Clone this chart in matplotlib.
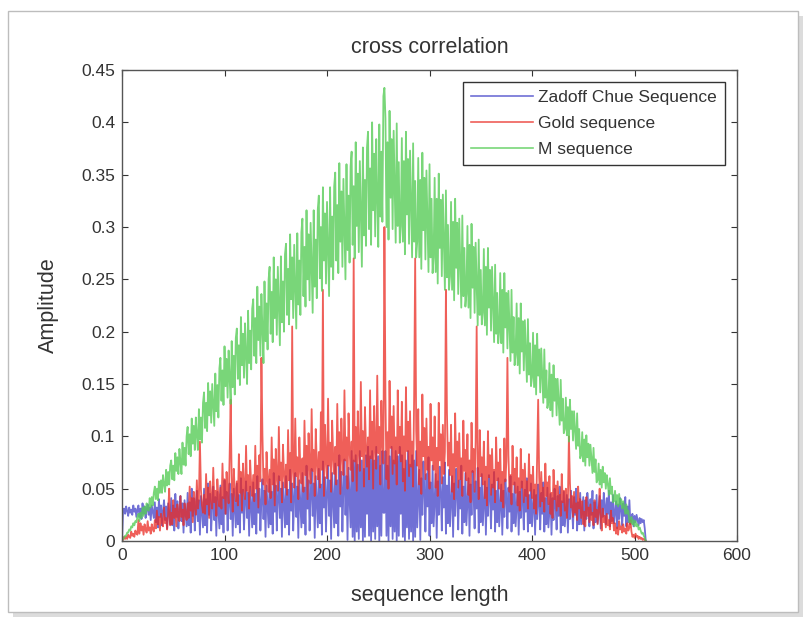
import numpy as np
import matplotlib.pyplot as plt
from matplotlib.patches import Rectangle

plt.rcParams['font.family'] = ['Liberation Sans', 'DejaVu Sans']

# cross correlation values in thousandths, one per lag 0..511 (16 lags per row)
m_seq_milli = [
    0, 2, 3, 5, 5, 8, 8, 11, 10, 14, 13, 17, 15, 19, 18, 23,
    26, 19, 27, 22, 32, 24, 33, 26, 36, 30, 29, 41, 32, 42, 34, 46,
    52, 40, 50, 39, 57, 46, 58, 46, 63, 54, 47, 68, 53, 66, 54, 72,
    77, 59, 72, 58, 84, 67, 80, 64, 88, 75, 64, 94, 73, 89, 72, 100,
    109, 83, 102, 81, 117, 93, 110, 87, 118, 101, 87, 126, 97, 118, 94, 132,
    142, 108, 132, 105, 151, 120, 143, 113, 150, 129, 110, 160, 124, 149, 118, 165,
    175, 134, 163, 130, 186, 148, 174, 137, 182, 155, 131, 191, 147, 177, 140, 194,
    203, 155, 187, 149, 214, 168, 198, 156, 208, 177, 150, 220, 170, 201, 164, 222,
    231, 177, 213, 170, 243, 192, 224, 177, 236, 201, 170, 248, 191, 227, 183, 250,
    262, 198, 238, 190, 271, 213, 250, 197, 262, 223, 187, 272, 209, 248, 200, 274,
    284, 216, 260, 207, 293, 231, 271, 213, 283, 241, 203, 294, 226, 268, 216, 295,
    308, 234, 281, 224, 316, 250, 293, 230, 304, 259, 218, 316, 243, 288, 232, 317,
    330, 251, 300, 239, 338, 268, 313, 246, 324, 278, 234, 338, 262, 310, 250, 339,
    352, 268, 321, 256, 361, 286, 334, 262, 346, 296, 250, 360, 278, 330, 266, 358,
    372, 283, 339, 270, 381, 301, 351, 276, 363, 311, 262, 376, 292, 345, 282, 376,
    391, 298, 356, 283, 400, 316, 370, 291, 384, 328, 281, 398, 310, 372, 305, 425,
    433, 404, 300, 381, 288, 411, 328, 384, 298, 392, 339, 285, 399, 301, 362, 285,
    301, 385, 286, 363, 274, 391, 312, 365, 284, 373, 322, 271, 380, 286, 344, 271,
    286, 366, 271, 345, 260, 371, 297, 347, 269, 354, 306, 257, 360, 271, 327, 256,
    271, 347, 257, 327, 246, 351, 280, 326, 253, 331, 286, 240, 335, 252, 302, 240,
    253, 324, 240, 305, 230, 327, 261, 304, 236, 308, 266, 223, 311, 234, 280, 224,
    236, 301, 223, 283, 213, 303, 242, 281, 218, 285, 246, 206, 288, 216, 259, 207,
    218, 279, 206, 262, 197, 280, 223, 259, 201, 262, 226, 190, 264, 198, 237, 189,
    201, 256, 189, 240, 180, 256, 204, 237, 184, 239, 206, 172, 240, 180, 214, 168,
    178, 227, 168, 213, 160, 227, 181, 210, 163, 211, 182, 152, 212, 159, 189, 148,
    156, 199, 147, 187, 140, 198, 158, 183, 142, 184, 158, 132, 183, 137, 163, 127,
    133, 170, 125, 159, 119, 168, 134, 155, 120, 155, 133, 111, 154, 115, 136, 103,
    107, 137, 101, 128, 95, 135, 107, 124, 96, 124, 106, 88, 122, 91, 107, 79,
    82, 104, 76, 97, 72, 101, 80, 93, 72, 92, 78, 65, 89, 66, 78, 56,
    58, 74, 54, 68, 51, 71, 56, 65, 50, 63, 54, 44, 60, 45, 52, 37,
    38, 48, 35, 44, 33, 45, 35, 40, 31, 38, 32, 26, 35, 26, 29, 18,
    18, 23, 16, 20, 14, 19, 14, 16, 11, 13, 10, 7, 8, 5, 3, 0,
]

gold_base_milli = [
    2, 1, 4, 2, 4, 2, 6, 4, 3, 9, 5, 7, 4, 10, 7, 6,
    12, 7, 17, 10, 14, 6, 16, 11, 8, 19, 10, 13, 7, 16, 11, 9,
    20, 12, 29, 16, 23, 10, 26, 18, 14, 32, 17, 22, 11, 27, 19, 15,
    27, 16, 39, 22, 31, 14, 35, 24, 19, 43, 23, 30, 15, 36, 26, 20,
    36, 22, 52, 29, 41, 18, 47, 32, 25, 58, 31, 40, 20, 49, 34, 27,
    44, 26, 64, 35, 51, 22, 57, 40, 31, 70, 37, 48, 24, 59, 42, 33,
    51, 31, 74, 41, 59, 26, 66, 46, 36, 82, 43, 56, 28, 69, 48, 38,
    57, 34, 83, 46, 66, 29, 74, 51, 40, 91, 48, 63, 31, 77, 54, 43,
    63, 38, 91, 50, 72, 32, 82, 57, 44, 101, 54, 69, 35, 85, 60, 47,
    68, 41, 99, 54, 78, 34, 88, 61, 48, 109, 58, 75, 37, 92, 65, 51,
    73, 44, 106, 58, 84, 37, 95, 66, 51, 117, 62, 80, 40, 99, 69, 55,
    79, 47, 115, 63, 91, 40, 103, 71, 55, 126, 67, 87, 43, 107, 75, 59,
    85, 51, 123, 68, 98, 43, 111, 77, 60, 136, 72, 94, 47, 115, 81, 64,
    90, 54, 131, 72, 104, 45, 117, 81, 63, 144, 77, 99, 50, 122, 86, 68,
    95, 57, 138, 76, 109, 48, 124, 86, 67, 152, 81, 105, 52, 128, 90, 71,
    99, 59, 144, 79, 114, 50, 129, 89, 69, 158, 84, 109, 54, 134, 94, 74,
    79, 139, 59, 104, 50, 153, 89, 119, 64, 129, 74, 99, 54, 144, 84, 109,
    76, 133, 57, 100, 48, 147, 86, 114, 62, 124, 71, 95, 52, 138, 81, 105,
    72, 126, 54, 95, 45, 140, 81, 108, 59, 117, 68, 90, 50, 131, 77, 99,
    68, 119, 51, 89, 43, 132, 77, 102, 55, 111, 64, 85, 47, 123, 72, 94,
    63, 111, 47, 83, 40, 122, 71, 95, 51, 103, 59, 79, 43, 115, 67, 87,
    58, 102, 44, 77, 37, 113, 66, 88, 47, 95, 55, 73, 40, 106, 62, 80,
    54, 95, 41, 71, 34, 105, 61, 82, 44, 88, 51, 68, 37, 99, 58, 75,
    50, 88, 38, 66, 32, 98, 57, 76, 41, 82, 47, 63, 35, 91, 54, 69,
    46, 80, 34, 60, 29, 88, 51, 68, 37, 74, 43, 57, 31, 83, 48, 63,
    41, 71, 31, 54, 26, 79, 46, 61, 33, 66, 38, 51, 28, 74, 43, 56,
    35, 62, 26, 46, 22, 68, 40, 53, 29, 57, 33, 44, 24, 64, 37, 48,
    29, 50, 22, 38, 18, 56, 32, 43, 23, 47, 27, 36, 20, 52, 31, 40,
    22, 38, 16, 28, 14, 42, 24, 32, 18, 35, 20, 27, 15, 39, 23, 30,
    16, 28, 12, 21, 10, 31, 18, 24, 13, 26, 15, 20, 11, 29, 17, 22,
    10, 17, 7, 13, 6, 19, 11, 14, 8, 16, 9, 12, 7, 17, 10, 13,
    6, 9, 4, 6, 3, 7, 4, 5, 2, 4, 2, 3, 1, 2, 1, 0,
]
# isolated Gold peaks (lag, amplitude)
gold_peak_lag = [16, 46, 76, 106, 136, 166, 196, 226, 256,
                 286, 316, 346, 376, 406, 436, 466, 496]
gold_peak_val = [0.02, 0.05, 0.095, 0.135, 0.175, 0.205, 0.24, 0.27, 0.30,
                 0.27, 0.24, 0.205, 0.175, 0.135, 0.10, 0.05, 0.02]

zc_seq_milli = [
    0, 28, 31, 26, 33, 29, 24, 32, 27, 30, 25, 34, 28, 31, 23, 30,
    34, 23, 31, 21, 36, 26, 33, 22, 30, 35, 25, 32, 20, 34, 28, 22,
    37, 18, 32, 13, 40, 23, 34, 15, 29, 39, 20, 33, 12, 36, 26, 16,
    41, 15, 34, 10, 45, 23, 38, 12, 30, 43, 19, 36, 8, 39, 27, 14,
    46, 15, 37, 8, 50, 24, 41, 10, 32, 48, 19, 39, 6, 43, 28, 13,
    50, 15, 40, 8, 55, 25, 45, 10, 35, 52, 20, 42, 5, 47, 30, 12,
    53, 16, 42, 8, 58, 26, 47, 10, 37, 55, 21, 45, 5, 50, 31, 13,
    55, 16, 44, 8, 60, 27, 49, 11, 38, 57, 22, 46, 5, 52, 32, 13,
    56, 16, 45, 7, 62, 27, 50, 10, 39, 59, 21, 48, 4, 53, 33, 13,
    59, 16, 47, 7, 65, 28, 53, 10, 41, 62, 22, 50, 4, 56, 34, 13,
    62, 16, 49, 6, 68, 29, 55, 10, 42, 65, 23, 52, 3, 58, 35, 13,
    65, 17, 51, 6, 72, 31, 58, 10, 44, 69, 24, 55, 3, 62, 37, 13,
    69, 17, 54, 6, 76, 32, 61, 9, 46, 72, 24, 58, 2, 65, 39, 13,
    74, 17, 58, 5, 82, 33, 66, 9, 50, 78, 25, 62, 1, 70, 41, 13,
    86, 4, 77, 0, 82, 9, 73, 2, 86, 13, 77, 0, 69, 4, 82, 26,
    90, 5, 81, 0, 86, 9, 77, 2, 90, 14, 81, 0, 72, 5, 86, 27,
    27, 86, 5, 72, 0, 81, 14, 90, 2, 77, 9, 86, 0, 81, 5, 90,
    26, 82, 4, 69, 0, 77, 13, 86, 2, 73, 9, 82, 0, 77, 4, 86,
    13, 41, 68, 1, 60, 25, 76, 48, 9, 64, 33, 80, 5, 56, 17, 72,
    14, 39, 64, 3, 57, 25, 71, 46, 10, 61, 32, 75, 7, 53, 17, 68,
    14, 38, 62, 4, 55, 24, 69, 45, 11, 58, 31, 72, 7, 52, 18, 65,
    15, 38, 60, 5, 54, 25, 67, 44, 12, 57, 31, 70, 8, 51, 18, 64,
    15, 36, 57, 6, 51, 24, 63, 42, 12, 54, 30, 66, 9, 48, 18, 60,
    14, 34, 54, 6, 48, 23, 59, 40, 12, 51, 28, 62, 9, 45, 17, 56,
    14, 33, 52, 6, 47, 22, 57, 38, 11, 49, 28, 60, 9, 44, 17, 55,
    14, 31, 49, 6, 44, 21, 54, 36, 11, 46, 26, 56, 9, 41, 16, 51,
    13, 29, 45, 6, 41, 20, 50, 34, 11, 43, 24, 52, 8, 38, 15, 47,
    14, 29, 44, 8, 40, 21, 48, 33, 12, 42, 25, 50, 10, 37, 16, 46,
    16, 29, 42, 10, 39, 21, 46, 33, 14, 40, 25, 48, 12, 37, 18, 44,
    17, 30, 43, 12, 39, 23, 46, 34, 16, 41, 26, 48, 14, 37, 19, 44,
    17, 27, 38, 12, 35, 21, 41, 30, 15, 36, 24, 42, 14, 33, 18, 39,
    16, 22, 26, 14, 24, 18, 25, 20, 15, 22, 17, 21, 18, 20, 12, 0,
]

xticks = [0, 100, 200, 300, 400, 500, 600]
yticks = [0, 0.05, 0.1, 0.15, 0.2, 0.25, 0.3, 0.35, 0.4, 0.45]
ytick_labels = ['0', '0.05', '0.1', '0.15', '0.2', '0.25', '0.3', '0.35', '0.4', '0.45']

m_seq = np.array(m_seq_milli) / 1000.0
zc_seq = np.array(zc_seq_milli) / 1000.0
gold_seq = np.array(gold_base_milli) / 1000.0
gold_seq[gold_peak_lag] = gold_peak_val
lag = np.arange(len(m_seq))

fig = plt.figure(figsize=(8.06, 6.23), dpi=100)

# screenshot-style frame with a soft shadow
fig.patches.append(Rectangle((0.016, 0.010), 0.98, 0.965, transform=fig.transFigure,
                             facecolor='#dcdcdc', edgecolor='none', zorder=-3))
fig.patches.append(Rectangle((0.010, 0.018), 0.98, 0.965, transform=fig.transFigure,
                             facecolor='white', edgecolor='#bdbdbd', lw=1.0, zorder=-2))

ax = fig.add_axes([0.1514, 0.1316, 0.763, 0.756])

ax.plot(lag, zc_seq, color='#4040c8', lw=1.3, alpha=0.75, label='Zadoff Chue Sequence')
ax.plot(lag, gold_seq, color='#ea2a22', lw=1.3, alpha=0.75, label='Gold sequence')
ax.plot(lag, m_seq, color='#58cc58', lw=1.3, alpha=0.8, label='M sequence')

ax.set_xlim(0, 600)
ax.set_ylim(0, 0.45)
ax.set_xticks(xticks)
ax.set_yticks(yticks)
ax.set_yticklabels(ytick_labels)
ax.tick_params(direction='in', top=True, right=True, length=4, labelsize=12.5,
               colors='#333333', pad=5)
for sp in ax.spines.values():
    sp.set_color('#555555')
    sp.set_linewidth(1.0)

ax.set_title('cross correlation', fontsize=15.5, color='#333333', pad=12)
ax.set_xlabel('sequence length', fontsize=15.5, color='#333333', labelpad=16)
ax.set_ylabel('Amplitude', fontsize=15.5, color='#333333', labelpad=16)

leg = ax.legend(loc='upper right', fontsize=12.5, fancybox=False, framealpha=1,
                edgecolor='#333333', handlelength=3.6, borderaxespad=0.7,
                labelspacing=0.62, handletextpad=0.3, borderpad=0.45)
leg.get_frame().set_linewidth(1.0)
for line in leg.get_lines():
    line.set_linewidth(1.2)
for t in leg.get_texts():
    t.set_color('#333333')

fig.savefig('out.png', dpi=100)
